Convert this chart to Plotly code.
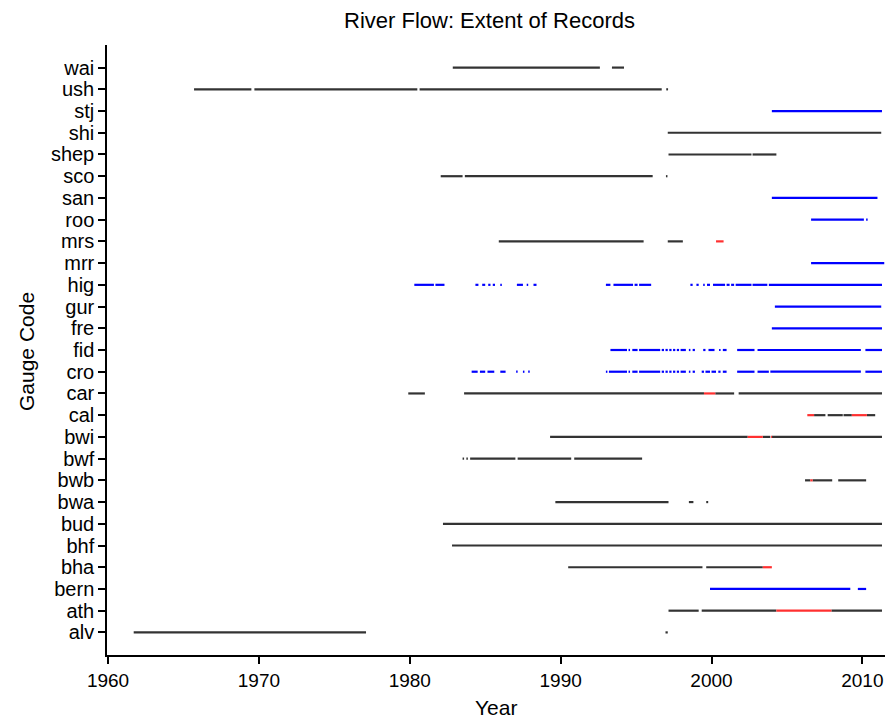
import plotly.graph_objects as go

gauges = ["alv", "ath", "bern", "bha", "bhf", "bud", "bwa", "bwb", "bwf", "bwi",
          "cal", "car", "cro", "fid", "fre", "gur", "hig", "mrr", "mrs", "roo",
          "san", "sco", "shep", "shi", "stj", "ush", "wai"]

# Record periods (start year, end year) by record type
archived = {
    "wai": [(1982.85, 1992.6), (1993.4, 1994.2)],
    "ush": [(1965.7, 1969.5), (1969.7, 1980.5), (1980.65, 1996.7), (1997.0, 1997.12)],
    "shi": [(1997.1, 2011.25)],
    "shep": [(1997.15, 2002.65), (2002.72, 2004.3)],
    "sco": [(1982.05, 1983.5), (1983.65, 1996.1), (1996.98, 1997.08)],
    "mrs": [(1985.9, 1995.5), (1997.1, 1998.1)],
    "car": [(1979.9, 1981.0), (1983.6, 1999.5), (2000.25, 2001.5), (2001.8, 2011.3)],
    "cal": [(2006.8, 2007.55), (2007.7, 2008.7), (2008.75, 2009.3), (2010.3, 2010.85)],
    "bwi": [(1989.3, 2002.4), (2003.4, 2003.9), (2004.0, 2011.3)],
    "bwf": [(1983.5, 1983.6), (1983.75, 1983.85), (1984.0, 1987.0), (1987.15, 1990.7), (1990.9, 1995.4)],
    "bwb": [(2006.2, 2006.55), (2006.7, 2008.0), (2008.4, 2010.25)],
    "bwa": [(1989.65, 1997.15), (1998.5, 1998.8), (1999.65, 1999.78)],
    "bud": [(1982.2, 2011.3)],
    "bhf": [(1982.8, 2011.3)],
    "bha": [(1990.5, 1999.4), (1999.65, 2003.4)],
    "ath": [(1997.15, 1999.15), (1999.35, 2004.3), (2007.95, 2011.3)],
    "alv": [(1961.7, 1977.1), (1996.95, 1997.1)],
}

realtime = {
    "stj": [(2004.0, 2011.3)],
    "san": [(2004.0, 2011.0)],
    "roo": [(2006.6, 2010.1), (2010.25, 2010.35)],
    "mrr": [(2006.6, 2011.45)],
    "hig": [(1980.3, 1981.6), (1981.7, 1982.3), (1984.35, 1984.55), (1984.8, 1985.0),
            (1985.2, 1985.35), (1985.5, 1985.65), (1986.0, 1986.1), (1987.1, 1987.5),
            (1987.75, 1987.85), (1988.2, 1988.4), (1993.0, 1993.3), (1993.5, 1994.8),
            (1994.9, 1995.1), (1995.2, 1996.0), (1998.6, 1998.75), (1999.0, 1999.15),
            (1999.45, 1999.55), (1999.7, 1999.9), (2000.1, 2000.9), (2001.0, 2001.2),
            (2001.3, 2001.5), (2001.6, 2002.65), (2002.72, 2003.7), (2003.8, 2011.3)],
    "gur": [(2004.2, 2011.25)],
    "fre": [(2004.0, 2011.3)],
    "fid": [(1993.3, 1994.4), (1994.5, 1994.6), (1994.75, 1995.1), (1995.2, 1996.6),
            (1996.7, 1996.85), (1996.95, 1997.1), (1997.2, 1997.35), (1997.45, 1997.6),
            (1997.7, 1997.85), (1997.95, 1998.3), (1998.5, 1998.6), (1998.75, 1998.9),
            (1999.45, 1999.6), (1999.8, 2000.2), (2000.5, 2000.6), (2000.75, 2001.0),
            (2001.7, 2002.85), (2003.05, 2009.9), (2010.2, 2011.3)],
    "cro": [(1984.1, 1984.5), (1984.65, 1985.0), (1985.15, 1985.6), (1986.0, 1986.35),
            (1987.05, 1987.15), (1987.5, 1987.6), (1987.85, 1987.95),
            (1993.0, 1993.1), (1993.2, 1994.4), (1994.5, 1994.6), (1994.75, 1995.1),
            (1995.2, 1996.6), (1996.7, 1996.85), (1996.95, 1997.1), (1997.2, 1997.35),
            (1997.45, 1997.6), (1997.7, 1997.85), (1997.95, 1998.3), (1998.5, 1998.6),
            (1998.75, 1998.9), (1999.35, 1999.5), (1999.6, 1999.9), (2000.0, 2000.3),
            (2000.45, 2000.6), (2000.75, 2001.0), (2001.7, 2002.85), (2003.05, 2003.8),
            (2003.9, 2009.9), (2010.2, 2011.3)],
    "bern": [(1999.9, 2009.2), (2009.7, 2010.25)],
}

flagged = {
    "mrs": [(2000.3, 2000.8)],
    "car": [(1999.5, 2000.25)],
    "cal": [(2006.35, 2006.8), (2009.3, 2010.3)],
    "bwi": [(2002.4, 2003.4), (2003.95, 2004.02)],
    "bwb": [(2006.55, 2006.7)],
    "bha": [(2003.4, 2004.0)],
    "ath": [(2004.3, 2007.95)],
}

x_ticks = [1960, 1970, 1980, 1990, 2000, 2010]


def build_xy(records):
    xs, ys = [], []
    for g, segs in records.items():
        yi = gauges.index(g) + 1
        for s, e in segs:
            xs += [s, e, None]
            ys += [yi, yi, None]
    return xs, ys


fig = go.Figure()
for recs, col in [(archived, "#333333"), (realtime, "#0000FF"), (flagged, "#FF3030")]:
    xs, ys = build_xy(recs)
    fig.add_trace(go.Scatter(x=xs, y=ys, mode="lines",
                             line=dict(color=col, width=2.2),
                             showlegend=False, hoverinfo="skip"))

font = "Liberation Sans, Arial, sans-serif"
fig.update_layout(
    width=893, height=720,
    margin=dict(l=107, r=8, t=45, b=65),
    plot_bgcolor="white", paper_bgcolor="white",
    font=dict(family=font, size=19, color="black"),
    showlegend=False,
)
fig.add_annotation(text="River Flow: Extent of Records", xref="paper", yref="paper",
                   x=(489 - 107) / 778, y=1 + (45 - 20) / 610, showarrow=False,
                   font=dict(size=22), xanchor="center", yanchor="middle")
fig.add_annotation(text="Year", xref="paper", yref="paper",
                   x=(496 - 107) / 778, y=-(707 - 655) / 610, showarrow=False,
                   font=dict(size=21), xanchor="center", yanchor="middle")
fig.add_annotation(text="Gauge Code", xref="paper", yref="paper",
                   x=-(107 - 26) / 778, y=(655 - 352) / 610, showarrow=False,
                   font=dict(size=21), textangle=-90, xanchor="center", yanchor="middle")

fig.update_xaxes(range=[1959.93, 2011.5], tickvals=x_ticks, ticktext=[str(t) for t in x_ticks],
                 showline=True, linecolor="black", linewidth=1.5, ticks="outside",
                 ticklen=7, tickwidth=1.5, tickcolor="black", showgrid=False, zeroline=False,
                 tickfont=dict(size=19))
fig.update_yaxes(range=[-0.04, 28.04], tickvals=list(range(1, len(gauges) + 1)), ticktext=gauges,
                 showline=True, linecolor="black", linewidth=1.5, ticks="outside",
                 ticklen=7, tickwidth=1.5, tickcolor="black", showgrid=False, zeroline=False,
                 tickfont=dict(size=20))

fig.write_html("out.html")
